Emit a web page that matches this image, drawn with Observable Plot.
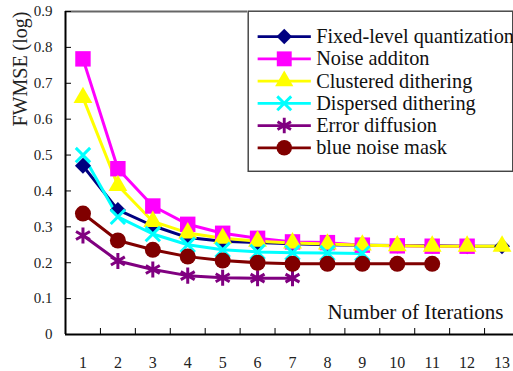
<!DOCTYPE html>
<html><head><meta charset="utf-8">
<script src="https://cdn.jsdelivr.net/npm/d3@7"></script>
<script src="https://cdn.jsdelivr.net/npm/@observablehq/plot@0.6"></script>
<style>
html,body{margin:0;padding:0;background:#fff;overflow:hidden;}
#wrap{position:relative;width:513px;height:371px;overflow:hidden;background:#fff;}
#legend{position:absolute;left:247px;top:10px;}
svg{overflow:visible;}
#wrap svg, #wrap svg text{font-family:'Liberation Serif','DejaVu Serif',serif !important;}
</style></head><body><div id="wrap"><div id="chart"></div><div id="legend"></div></div>
<script>
const seriesNames = ["Fixed-level quantization","Noise additon","Clustered dithering","Dispersed dithering","Error diffusion","blue noise mask"];
const seriesColors = ["#000080","#ff00ff","#ffff00","#00ffff","#800080","#800000"];
const seriesSymbols = ["diamond2","square","triangle","times","asterisk","circle"];
const seriesRadius = [7.2,8.7,7,6.6,7.6,8];
const fixedLevel = [0.47,0.347,0.303,0.27,0.26,0.256,0.253,0.25,0.249,0.248,0.247,0.246,0.246];
const noiseAddition = [0.768,0.462,0.358,0.307,0.282,0.268,0.258,0.256,0.249,0.247,0.246,0.246];
const clustered = [0.66,0.415,0.315,0.283,0.268,0.26,0.255,0.252,0.249,0.247,0.246,0.246,0.246];
const dispersed = [0.50,0.328,0.28,0.25,0.236,0.23,0.228,0.227,0.226];
const errorDiffusion = [0.276,0.205,0.181,0.164,0.158,0.157,0.157];
const blueNoise = [0.337,0.262,0.236,0.217,0.206,0.2,0.197,0.197,0.197,0.197,0.197];
const xTicks = [1,2,3,4,5,6,7,8,9,10,11,12,13];
const yTicks = [0,0.1,0.2,0.3,0.4,0.5,0.6,0.7,0.8,0.9];
const xLabel = "Number of Iterations";
const yLabel = "FWMSE (log)";

const allValues = [fixedLevel, noiseAddition, clustered, dispersed, errorDiffusion, blueNoise];
const rows = [];
allValues.forEach((vals, s) => vals.forEach((v, i) => rows.push({series: seriesNames[s], s, iter: xTicks[i], value: v})));
const xBounds = xTicks.map(t => t + 0.5).concat([xTicks[0] - 0.5]);
const isStroke = s => seriesSymbols[s] === "times" || seriesSymbols[s] === "asterisk";

const marks = [
  Plot.ruleY([0.9], {stroke: "#666", strokeWidth: 2}),
  Plot.axisY({ticks: yTicks, tickSize: -6, tickPadding: 19, tickFormat: d => String(+d.toFixed(1)), fontSize: 15, label: null, stroke: "#000", fill: "#222"}),
  Plot.axisX({ticks: xBounds, tickSize: -6, tickFormat: () => "", label: null, stroke: "#000"}),
  Plot.axisX({ticks: xTicks, tickSize: 0, tickPadding: 22, fontSize: 16, label: null, fill: "#222"}),
  Plot.ruleX([0.5], {stroke: "#000", strokeWidth: 2}),
  Plot.ruleY([0], {stroke: "#000", strokeWidth: 2}),
  Plot.text([xLabel], {frameAnchor: "bottom-right", textAnchor: "end", dx: -10, dy: -16, fontSize: 21, fill: "#111"}),
  Plot.text([yLabel], {frameAnchor: "top-left", rotate: -90, textAnchor: "end", dx: -53, dy: 0, fontSize: 20, fill: "#222"})
];
seriesNames.forEach((name, s) => {
  const data = rows.filter(d => d.s === s);
  marks.push(Plot.line(data, {x: "iter", y: "value", stroke: seriesColors[s], strokeWidth: 3}));
});
seriesNames.forEach((name, s) => {
  const data = rows.filter(d => d.s === s);
  marks.push(Plot.dot(data, {x: "iter", y: "value", symbol: () => seriesSymbols[s], r: seriesRadius[s],
    fill: isStroke(s) ? "none" : seriesColors[s], stroke: seriesColors[s], strokeWidth: isStroke(s) ? 3 : 0}));
});

const chart = Plot.plot({
  width: 513, height: 371,
  marginLeft: 65, marginTop: 11, marginBottom: 37, marginRight: 0,
  style: {background: "#fff"},
  x: {domain: [0.5, 13.5], range: [65, 519]},
  y: {domain: [0, 0.9], range: [334, 11]},
  symbol: {type: "identity"},
  marks
});
document.getElementById("chart").appendChild(chart);

const legendWidth = 275, legendHeight = 167;
const legend = Plot.plot({
  width: legendWidth, height: legendHeight,
  margin: 0,
  style: {background: "#fff"},
  x: {type: "identity", axis: null},
  y: {type: "point", domain: seriesNames, range: [15, 153], axis: null},
  r: {type: "identity"},
  symbol: {type: "identity"},
  marks: [
    Plot.frame({fill: "#fff", stroke: "#444", strokeWidth: 1.5, inset: 0.75}),
    Plot.ruleY(seriesNames, {y: d => d, x1: 11, x2: 66, stroke: (d, i) => seriesColors[i], strokeWidth: 3}),
    Plot.dot(seriesNames, {y: d => d, x: 38, symbol: (d, i) => seriesSymbols[i], r: (d, i) => seriesRadius[i],
      fill: (d, i) => isStroke(i) ? "none" : seriesColors[i],
      stroke: (d, i) => seriesColors[i], strokeWidth: (d, i) => isStroke(i) ? 3 : 0}),
    Plot.text(seriesNames, {y: d => d, x: 71, text: d => d, textAnchor: "start", fontSize: 21, fill: "#111"})
  ]
});
document.getElementById("legend").appendChild(legend);
</script></body></html>
